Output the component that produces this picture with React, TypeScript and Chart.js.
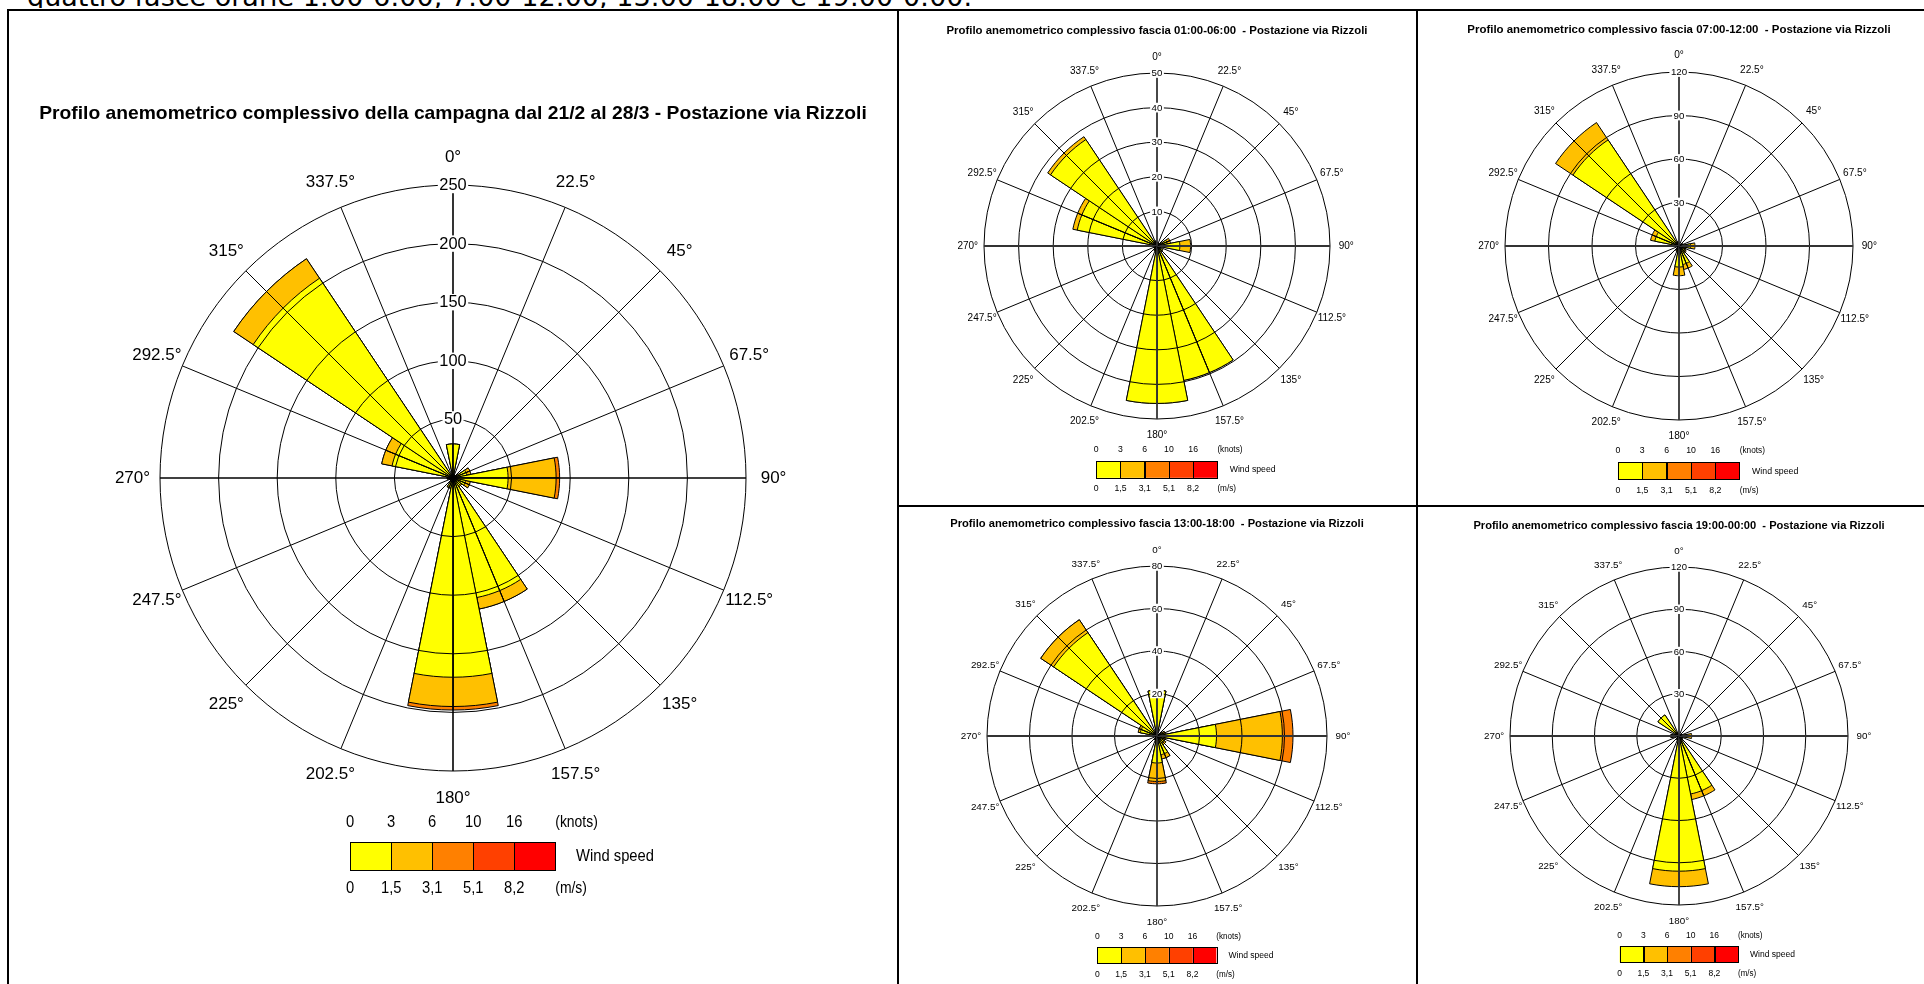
import React, { useEffect, useRef } from "react";
import { Chart, registerables } from "chart.js";

Chart.register(...registerables);

const FONT = '"Liberation Sans", Arial, Helvetica, sans-serif';

// ---------- shared labels ----------
const DIRECTION_LABELS = ["0°", "22.5°", "45°", "67.5°", "90°", "112.5°", "135°", "157.5°", "180°", "202.5°", "225°", "247.5°", "270°", "292.5°", "315°", "337.5°"];
const KNOT_LABELS = ["0", "3", "6", "10", "16"];
const MS_LABELS = ["0", "1,5", "3,1", "5,1", "8,2"];
const SPEED_COLORS = ["#FFFF00", "#FFC000", "#FF8000", "#FF4000", "#FF0000"];
const KNOTS_UNIT = "(knots)";
const MS_UNIT = "(m/s)";
const LEGEND_NAME = "Wind speed";
const INTRO_TEXT = "quattro fasce orarie 1:00-6:00, 7:00-12:00, 13:00-18:00 e 19:00-0:00.";

// ---------- whole campaign ----------
const ALL_TITLE = "Profilo anemometrico complessivo della campagna dal 21/2 al 28/3 - Postazione via Rizzoli";
const ALL_TICKS = [50, 100, 150, 200, 250];
const ALL_SPEED_1 = [29, 2, 3, 12, 47, 11, 8, 104, 170, 8, 3, 2, 4, 53, 205, 2];
const ALL_SPEED_2 = [0, 0, 0, 3.5, 41, 4, 1, 10, 25, 1, 0, 0, 1, 9, 20, 0];
const ALL_SPEED_3 = [0, 0, 0, 0, 3, 0, 0, 0, 3, 0, 0, 0, 0, 0, 0, 0];

// ---------- 01:00-06:00 ----------
const NIGHT_TITLE = "Profilo anemometrico complessivo fascia 01:00-06:00  - Postazione via Rizzoli";
const NIGHT_TICKS = [10, 20, 30, 40, 50];
const NIGHT_SPEED_1 = [1, 0.5, 1, 3, 6.6, 1, 2, 39.6, 45.5, 1.5, 1, 1, 1, 23.5, 37, 1.5];
const NIGHT_SPEED_2 = [0, 0, 0, 1, 3.1, 0, 0, 0, 0, 0, 0, 0, 0, 1.3, 1, 0];

// ---------- 07:00-12:00 ----------
const MORNING_TITLE = "Profilo anemometrico complessivo fascia 07:00-12:00  - Postazione via Rizzoli";
const MORNING_TICKS = [30, 60, 90, 120];
const MORNING_SPEED_1 = [2, 1, 1, 2, 8, 4, 5, 13, 14.5, 3, 1, 1, 2, 17, 88, 3];
const MORNING_SPEED_2 = [0, 0, 0, 1, 3, 1, 1, 3.5, 6, 1, 0, 0, 0, 3, 14.4, 0];

// ---------- 13:00-18:00 ----------
const AFTERNOON_TITLE = "Profilo anemometrico complessivo fascia 13:00-18:00  - Postazione via Rizzoli";
const AFTERNOON_TICKS = [20, 40, 60, 80];
const AFTERNOON_SPEED_1 = [21.5, 1, 1, 3, 28, 3, 4, 9, 12.7, 2, 1, 1, 1, 8, 58.5, 2];
const AFTERNOON_SPEED_2 = [0, 0, 0, 1, 31, 1, 1, 2, 8.7, 0, 0, 0, 0, 1, 7.3, 0];
const AFTERNOON_SPEED_3 = [0, 0, 0, 0, 5, 0, 0, 0, 1.1, 0, 0, 0, 0, 0, 0, 0];

// ---------- 19:00-00:00 ----------
const EVENING_TITLE = "Profilo anemometrico complessivo fascia 19:00-00:00  - Postazione via Rizzoli";
const EVENING_TICKS = [30, 60, 90, 120];
const EVENING_SPEED_1 = [1, 0.5, 1, 2, 6, 2, 3, 42, 96, 3, 1, 1, 5, 3, 18, 2];
const EVENING_SPEED_2 = [0, 0, 0, 0, 3, 0, 0, 4, 11, 0, 0, 0, 1, 0, 0, 0];

type RoseSpec = {
  key: string;
  title: string;
  ticks: number[];
  classes: number[][];
  box: { x: number; y: number; w: number; h: number };
  cx: number;
  cy: number;
  r: number;
  cardinalWidth: number;
  cardinalColor: string;
};

const ROSES: RoseSpec[] = [
  { key: "all", title: ALL_TITLE, ticks: ALL_TICKS, classes: [ALL_SPEED_1, ALL_SPEED_2, ALL_SPEED_3], box: { x: 9, y: 11, w: 888, h: 973 }, cx: 444, cy: 467, r: 293, cardinalWidth: 1.6, cardinalColor: "#000" },
  { key: "night", title: NIGHT_TITLE, ticks: NIGHT_TICKS, classes: [NIGHT_SPEED_1, NIGHT_SPEED_2], box: { x: 899, y: 11, w: 517, h: 494 }, cx: 258, cy: 235, r: 173, cardinalWidth: 1.8, cardinalColor: "#333" },
  { key: "morning", title: MORNING_TITLE, ticks: MORNING_TICKS, classes: [MORNING_SPEED_1, MORNING_SPEED_2], box: { x: 1418, y: 11, w: 506, h: 494 }, cx: 261, cy: 235, r: 174, cardinalWidth: 1.8, cardinalColor: "#333" },
  { key: "afternoon", title: AFTERNOON_TITLE, ticks: AFTERNOON_TICKS, classes: [AFTERNOON_SPEED_1, AFTERNOON_SPEED_2, AFTERNOON_SPEED_3], box: { x: 899, y: 507, w: 517, h: 477 }, cx: 258, cy: 229, r: 170, cardinalWidth: 1.8, cardinalColor: "#333" },
  { key: "evening", title: EVENING_TITLE, ticks: EVENING_TICKS, classes: [EVENING_SPEED_1, EVENING_SPEED_2], box: { x: 1418, y: 507, w: 506, h: 477 }, cx: 261, cy: 229, r: 169, cardinalWidth: 1.8, cardinalColor: "#333" },
];

function drawScaled(ctx: CanvasRenderingContext2D, text: string, x: number, y: number, align: CanvasTextAlign, sx: number) {
  ctx.save();
  ctx.translate(x, y);
  ctx.scale(sx, 1);
  ctx.textAlign = align;
  ctx.textBaseline = "middle";
  ctx.fillText(text, 0, 0);
  ctx.restore();
}

function makeTextPlugin(spec: RoseSpec) {
  return {
    id: "roseText_" + spec.key,
    afterDraw(chart: any) {
      const s = chart.scales.r;
      const ctx: CanvasRenderingContext2D = chart.ctx;
      const cx = s.xCenter;
      const cy = s.yCenter;
      const R = s.drawingArea;
      ctx.save();
      ctx.fillStyle = "#000";
      ctx.textBaseline = "middle";

      // title
      ctx.font = `bold ${0.0658 * R}px ${FONT}`;
      ctx.textAlign = "center";
      ctx.fillText(spec.title, cx, cy - 1.245 * R);

      // direction labels
      ctx.font = `${0.058 * R}px ${FONT}`;
      DIRECTION_LABELS.forEach((lab, d) => {
        const p = s.getPointPosition(2 * d + 1, 1.094 * R);
        ctx.fillText(lab, p.x, p.y);
      });

      // radial tick labels with white backdrop
      const tf = 0.056 * R;
      ctx.font = `${tf}px ${FONT}`;
      spec.ticks.forEach((v) => {
        const y = cy - s.getDistanceFromCenterForValue(v);
        const t = String(v);
        const w = ctx.measureText(t).width;
        ctx.fillStyle = "#fff";
        ctx.fillRect(cx - w / 2 - 1.5, y - tf / 2, w + 3, tf);
        ctx.fillStyle = "#000";
        ctx.fillText(t, cx, y + 0.5);
      });

      // legend
      const lf = 0.056 * R;
      ctx.font = `${lf}px ${FONT}`;
      const bx0 = cx - 0.351 * R;
      const bw = 0.14 * R;
      const by = cy + 1.244 * R;
      const bh = 0.096 * R;
      const ky = cy + 1.177 * R;
      const my = cy + 1.402 * R;
      KNOT_LABELS.forEach((t, j) => drawScaled(ctx, t, bx0 + j * bw, ky, "center", 0.9));
      drawScaled(ctx, KNOTS_UNIT, bx0 + 5 * bw, ky, "left", 0.85);
      MS_LABELS.forEach((t, j) => drawScaled(ctx, t, bx0 + j * bw, my, "center", 0.9));
      drawScaled(ctx, MS_UNIT, bx0 + 5 * bw, my, "left", 0.85);
      SPEED_COLORS.forEach((c, j) => {
        ctx.fillStyle = c;
        ctx.fillRect(bx0 + j * bw, by, bw, bh);
      });
      ctx.strokeStyle = "#000";
      ctx.lineWidth = 1;
      SPEED_COLORS.forEach((c, j) => {
        ctx.strokeRect(Math.round(bx0 + j * bw) + 0.5, Math.round(by) + 0.5, Math.round(bw), Math.round(bh));
      });
      ctx.fillStyle = "#000";
      drawScaled(ctx, LEGEND_NAME, cx + 0.42 * R, by + bh / 2, "left", 0.9);
      ctx.restore();
    },
  };
}

function buildConfig(spec: RoseSpec): any {
  const labels: string[] = [];
  DIRECTION_LABELS.forEach((l) => {
    labels.push("", l);
  });
  let run = new Array(16).fill(0);
  const datasets = spec.classes.map((cls, k) => {
    run = run.map((v, i) => v + cls[i]);
    const data: number[] = [];
    run.forEach((v) => {
      data.push(v, v);
    });
    return {
      data,
      backgroundColor: SPEED_COLORS[k],
      borderColor: "#000",
      borderWidth: 1,
    };
  });
  const { w, h } = spec.box;
  const max = spec.ticks[spec.ticks.length - 1];
  const step = spec.ticks[0];
  return {
    type: "polarArea",
    data: { labels, datasets },
    options: {
      responsive: false,
      animation: false,
      events: [],
      layout: {
        padding: {
          left: spec.cx - spec.r,
          right: w - spec.cx - spec.r,
          top: spec.cy - spec.r,
          bottom: h - spec.cy - spec.r,
        },
      },
      plugins: {
        legend: { display: false },
        tooltip: { enabled: false },
        title: { display: false },
      },
      scales: {
        r: {
          type: "radialLinear",
          min: 0,
          max,
          startAngle: -11.25,
          z: 1,
          border: { display: false },
          ticks: { display: false, stepSize: step },
          grid: { display: true, circular: true, color: "#000", lineWidth: 1, z: 1 },
          angleLines: {
            display: true,
            color: (c: any) => (c.index % 2 === 1 ? (((c.index - 1) / 2) % 4 === 0 ? spec.cardinalColor : "#000") : "rgba(0,0,0,0)"),
            lineWidth: (c: any) => (c.index % 2 === 1 ? (((c.index - 1) / 2) % 4 === 0 ? spec.cardinalWidth : 1) : 0),
          },
          pointLabels: { display: false },
        },
      },
    },
    plugins: [makeTextPlugin(spec)],
  };
}

function Rose({ spec }: { spec: RoseSpec }) {
  const ref = useRef<HTMLCanvasElement | null>(null);
  useEffect(() => {
    if (!ref.current) return;
    const chart = new Chart(ref.current, buildConfig(spec));
    return () => chart.destroy();
  }, [spec]);
  const b = spec.box;
  return (
    <canvas
      ref={ref}
      width={b.w}
      height={b.h}
      style={{ position: "absolute", left: b.x, top: b.y, width: b.w, height: b.h }}
    />
  );
}

const line = (left: number, top: number, width: number, height: number) => (
  <div style={{ position: "absolute", left, top, width, height, background: "#000" }} />
);

export default function App() {
  return (
    <div style={{ position: "absolute", left: 0, top: 0, width: 1924, height: 984, overflow: "hidden", background: "#fff" }}>
      <div style={{ position: "absolute", left: 0, top: 0, width: 1924, height: 8, overflow: "hidden" }}>
        <div style={{ position: "absolute", left: 27, top: -18, font: '27px "DejaVu Sans", sans-serif', lineHeight: "30px", whiteSpace: "nowrap", color: "#000" }}>
          {INTRO_TEXT}
        </div>
      </div>
      {ROSES.map((s) => (
        <Rose key={s.key} spec={s} />
      ))}
      {line(7, 9, 1917, 2)}
      {line(7, 9, 2, 975)}
      {line(897, 9, 2, 975)}
      {line(1416, 9, 2, 975)}
      {line(897, 505, 1027, 2)}
    </div>
  );
}
